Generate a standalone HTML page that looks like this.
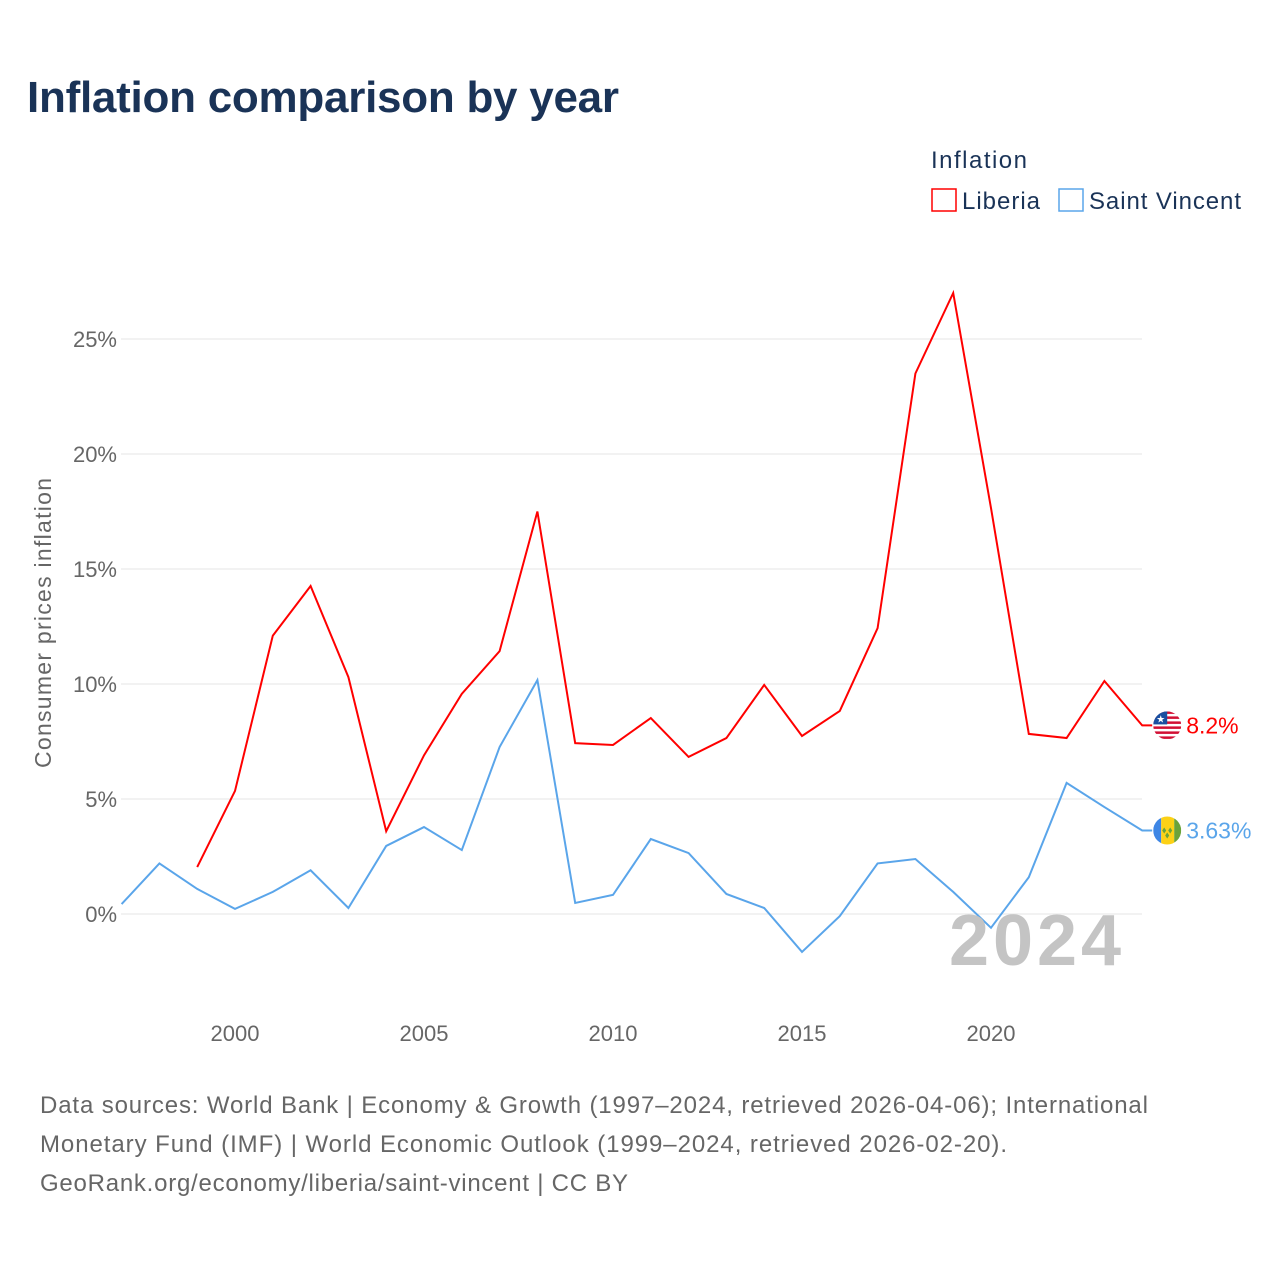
<!DOCTYPE html>
<html><head><meta charset="utf-8"><style>
body{margin:0;background:#fff;width:1280px;height:1280px;overflow:hidden;font-family:"Liberation Sans",sans-serif}
</style></head><body>
<svg id="c" width="1280" height="1280" xmlns="http://www.w3.org/2000/svg">
<defs><clipPath id="cl1"><circle id="c1" cx="0" cy="0" r="14"/></clipPath><clipPath id="cl2"><circle cx="0" cy="0" r="14"/></clipPath></defs>
<text x="27" y="112" font-size="44" font-weight="bold" fill="#1a3357" textLength="592">Inflation comparison by year</text>
<text x="931" y="168" font-size="24" fill="#1a3357" textLength="96">Inflation</text>
<g><rect x="932" y="189" width="24" height="22" fill="none" stroke="#f00" stroke-width="1.5"/><text x="962" y="209" font-size="24" fill="#1a3357" textLength="78">Liberia</text></g>
<g><rect x="1059" y="189" width="24" height="22" fill="none" stroke="#5aa5ea" stroke-width="1.5"/><text x="1089" y="209" font-size="24" fill="#1a3357" textLength="152">Saint Vincent</text></g>
<text transform="translate(51,623) rotate(-90)" text-anchor="middle" font-size="23" fill="#666" textLength="290">Consumer prices inflation</text>
<g id="grid"></g><g id="marks"></g>
<text x="1121" y="965" text-anchor="end" font-size="72" font-weight="bold" fill="#c4c4c4" textLength="172">2024</text>
<g font-size="24" fill="#666">
<text x="40" y="1113" textLength="1108">Data sources: World Bank | Economy &amp; Growth (1997–2024, retrieved 2026-04-06); International</text>
<text x="40" y="1152" textLength="967">Monetary Fund (IMF) | World Economic Outlook (1999–2024, retrieved 2026-02-20).</text>
<text x="40" y="1191" textLength="588">GeoRank.org/economy/liberia/saint-vincent | CC BY</text></g>
</svg>
<script>
const yTicks=[0,5,10,15,20,25];
const xTicks=[2000,2005,2010,2015,2020];
const liberiaYears=[1999,2000,2001,2002,2003,2004,2005,2006,2007,2008,2009,2010,2011,2012,2013,2014,2015,2016,2017,2018,2019,2020,2021,2022,2023,2024];
const liberiaVals=[2.04,5.35,12.1,14.26,10.3,3.6,6.9,9.57,11.43,17.5,7.43,7.35,8.52,6.83,7.65,9.96,7.74,8.83,12.43,23.5,27.0,17.65,7.83,7.65,10.13,8.2];
const svgYears=[1997,1998,1999,2000,2001,2002,2003,2004,2005,2006,2007,2008,2009,2010,2011,2012,2013,2014,2015,2016,2017,2018,2019,2020,2021,2022,2023,2024];
const svgVals=[0.43,2.2,1.09,0.22,0.96,1.9,0.26,2.96,3.78,2.78,7.26,10.17,0.48,0.83,3.26,2.65,0.87,0.26,-1.65,-0.09,2.2,2.39,0.96,-0.6,1.6,5.7,4.65,3.63];
const NS='http://www.w3.org/2000/svg';
const X=y=>121.6+(y-1997)*37.8, Y=v=>914-v*23;
const grid=document.getElementById('grid'), marks=document.getElementById('marks');
function mk(t,a,p){const e=document.createElementNS(NS,t);for(const k in a)e.setAttribute(k,a[k]);p.appendChild(e);return e;}
yTicks.forEach(v=>{
 const l=mk('line',{x1:121,x2:1142,y1:Y(v),y2:Y(v),stroke:'#e6e6e6'},grid);
 
 
 const t=mk('text',{x:117,y:Y(v)+8,'text-anchor':'end','font-size':22,fill:'#666'},grid);t.textContent=v+'%';
 
 
});
xTicks.forEach(y=>{
 const t=mk('text',{x:X(y),y:1041,'text-anchor':'middle','font-size':22,fill:'#666'},grid);t.textContent=y;
 
 
});
function series(ys,vs,col,name,label){
 const lx=X(ys[ys.length-1]),ly=Y(vs[vs.length-1]);
 const pts=ys.map((y,i)=>X(y)+','+Y(vs[i]));pts.push((lx+10)+','+ly);
 const p=mk('polyline',{points:pts.join(' '),fill:'none',stroke:col,'stroke-width':2},marks);
 
 
 const t=mk('text',{x:lx+44,y:ly+8,'font-size':23,fill:col},marks);t.textContent=label;
 
 
 return [lx,ly];
}
const [ax,ay]=series(liberiaYears,liberiaVals,'#f00','liberia',liberiaVals[liberiaVals.length-1]+'%');
const [bx,by]=series(svgYears,svgVals,'#5aa5ea','saint-vincent',svgVals[svgVals.length-1]+'%');
// flags (drawn in local coords, clipped to circle)
const f1=mk('g',{transform:`translate(${ax+25},${ay})`,'clip-path':'url(#cl1)'},marks);


mk('rect',{x:-14,y:-14,width:28,height:28,fill:'#fff'},f1);
for(let i=0;i<6;i++)mk('rect',{x:-14,y:-14+i*5,width:28,height:2.5,fill:'#d21034'},f1);
mk('rect',{x:-14,y:-14,width:14,height:13,fill:'#1a4fa0'},f1);
mk('text',{x:-11,y:-3,'font-size':10,fill:'#fff'},f1).textContent='★';
const f2=mk('g',{transform:`translate(${bx+25},${by})`,'clip-path':'url(#cl2)'},marks);


mk('rect',{x:-14,y:-14,width:8,height:28,fill:'#3d86e5'},f2);
mk('rect',{x:-6,y:-14,width:13,height:28,fill:'#fcd116'},f2);
mk('rect',{x:7,y:-14,width:7,height:28,fill:'#6ba33a'},f2);
mk('path',{d:'M-3 -3l2 3-2 3-2-3zM3 -3l2 3-2 3-2-3zM0 2l2 3-2 3-2-3z',fill:'#6ba33a'},f2);
</script>
</body></html>
